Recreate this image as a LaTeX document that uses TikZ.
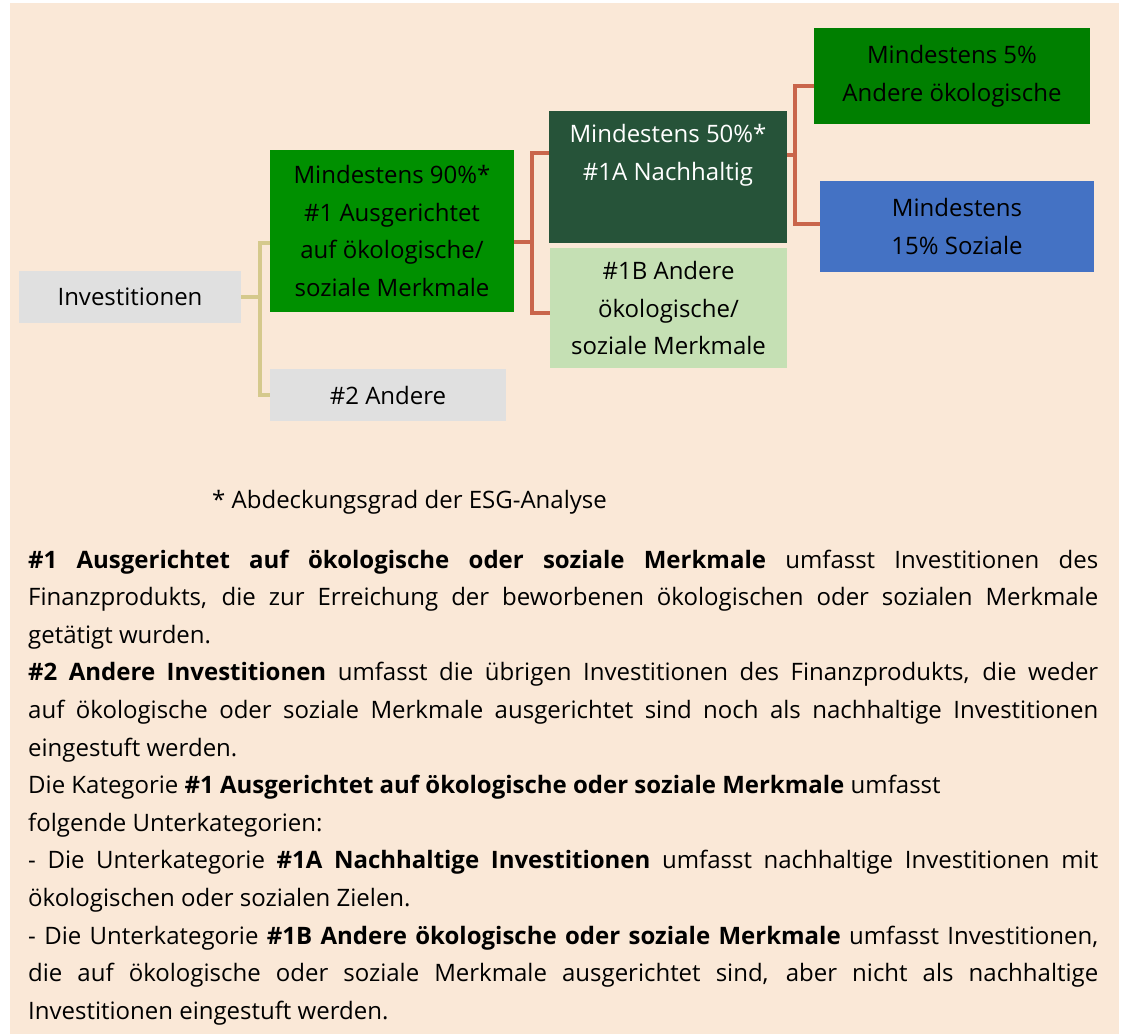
\documentclass[tikz,border=0pt]{standalone}
\usepackage{fontspec}
\setmainfont{Open Sans}
\usepackage{tikz}
\usetikzlibrary{calc,positioning}
\setlength{\parindent}{0pt}
\hyphenpenalty=10000

\definecolor{bgbeige}{HTML}{FAE8D7}
\definecolor{boxgray}{HTML}{E0E0E0}
\definecolor{greenA}{HTML}{009000}
\definecolor{darkgreen}{HTML}{265339}
\definecolor{lightgreen}{HTML}{C5E0B4}
\definecolor{greenB}{HTML}{007F00}
\definecolor{socblue}{HTML}{4472C4}
\definecolor{tanline}{HTML}{D5C98C}
\definecolor{redline}{HTML}{C9654B}

\tikzset{
  catbox/.style={inner sep=0pt, align=center, font=\fontsize{24}{37.6}\selectfont},
  tanlink/.style={draw=tanline, line width=4pt},
  redlink/.style={draw=redline, line width=4pt}
}

\begin{document}
\begin{tikzpicture}[x=1pt,y=-1pt]

\useasboundingbox (0,0) rectangle (1122,1036);
\fill[bgbeige] (10,3) rectangle (1119,1034);

\node[catbox, fill=boxgray, minimum width=222, minimum height=52] (inv) at (130,297) {Investitionen};

\node[catbox, fill=greenA, minimum width=244, minimum height=162] (ausg) at (392,231)
  {Mindestens 90\%*\\\#1 Ausgerichtet\\auf ökologische/\\soziale Merkmale};
\node[catbox, fill=boxgray, minimum width=236, minimum height=52] (andere) at (388,395) {\#2 Andere};

\node[catbox, fill=darkgreen, text=white, minimum width=238, minimum height=132] (na) at (668,177)
  {Mindestens 50\%*\\\#1A Nachhaltig\\\strut};
\node[catbox, fill=lightgreen, minimum width=237, minimum height=120] (nb) at (668.5,308)
  {\#1B Andere\\ökologische/\\soziale Merkmale};

\node[catbox, fill=greenB, minimum width=276, minimum height=96] (fuenf) at (952,76)
  {Mindestens 5\%\\Andere ökologische};
\node[catbox, fill=socblue, minimum width=274, minimum height=91] (sozial) at (957,226.5)
  {Mindestens\\15\% Soziale};

% connectors
\draw[tanlink] (inv.east) -- ++(19,0) |- ([yshift=-12]ausg.west);
\draw[tanlink] (inv.east) -- ++(19,0) |- (andere.west);

\draw[redlink] ([yshift=-11]ausg.east) -- ++(18,0) |- ([yshift=24]na.west);
\draw[redlink] ([yshift=-11]ausg.east) -- ++(18,0) |- ([yshift=-5]nb.west);

\draw[redlink] ([yshift=22]na.east) -- ++(8,0) |- ([yshift=-10]fuenf.west);
\draw[redlink] ([yshift=22]na.east) -- ++(8,0) |- ([yshift=2.5]sozial.west);

\node[inner sep=0pt, anchor=base west, font=\fontsize{24}{37.6}\selectfont] (note) at (212,508)
  {* Abdeckungsgrad der ESG-Analyse};

\node[inner sep=0pt, anchor=base west, text width=1070, align=justify,
      font=\fontsize{24}{37.6}\selectfont] (legend) at (28,568)
  {\textbf{\#1 Ausgerichtet auf ökologische oder soziale Merkmale} umfasst Investitionen des\linebreak
   Finanzprodukts, die zur Erreichung der beworbenen ökologischen oder sozialen Merkmale\linebreak
   getätigt wurden.\par
   \textbf{\#2 Andere Investitionen} umfasst die übrigen Investitionen des Finanzprodukts, die weder\linebreak
   auf ökologische oder soziale Merkmale ausgerichtet sind noch als nachhaltige Investitionen\linebreak
   eingestuft werden.\par
   Die Kategorie \textbf{\#1 Ausgerichtet auf ökologische oder soziale Merkmale} umfasst\par
   folgende Unterkategorien:\par
   - Die Unterkategorie \textbf{\#1A Nachhaltige Investitionen} umfasst nachhaltige Investitionen mit\linebreak
   ökologischen oder sozialen Zielen.\par
   - Die Unterkategorie \textbf{\#1B Andere ökologische oder soziale Merkmale} umfasst Investitionen,\linebreak
   die auf ökologische oder soziale Merkmale ausgerichtet sind, aber nicht als nachhaltige\linebreak
   Investitionen eingestuft werden.};

\end{tikzpicture}
\end{document}
